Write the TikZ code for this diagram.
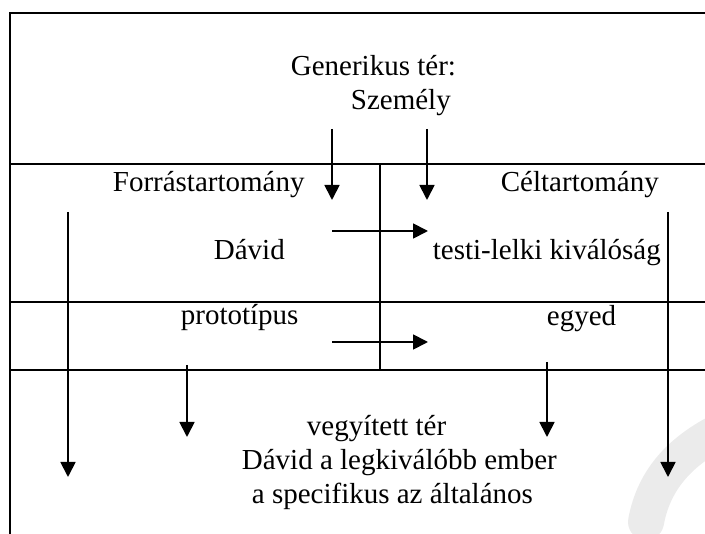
\documentclass[tikz,border=0pt]{standalone}
\usepackage{fontspec}
\setmainfont{Liberation Serif}
\usetikzlibrary{arrows.meta}

\begin{document}
\begin{tikzpicture}[x=1pt, y=-1pt, line width=1.8pt,
    >={Triangle[length=15pt,width=15pt]},
    lbl/.style={anchor=base west, inner sep=0pt, font=\fontsize{29}{34}\selectfont}]
      \useasboundingbox (0,0) rectangle (705,534);

      \draw[black!8, line width=36pt, line cap=round] (722,430) .. controls (682,450) and (654,478) .. (646,522);

      \draw (10,534) -- (10,13) -- (705,13);
      \draw (10,164) -- (705,164);
      \draw (10,302) -- (705,302);
      \draw (10,370) -- (705,370);
      \draw (380,164) -- (380,370);

      \node[lbl] (gen) at (290,76) {Generikus tér:};
      \node[lbl] (szem) at (350,110) {Személy};
      \node[lbl] (forras) at (112,192) {Forrástartomány};
      \node[lbl] (cel) at (500,192) {Céltartomány};
      \node[lbl] (david) at (213,260) {Dávid};
      \node[lbl] (testi) at (432,260) {testi-lelki kiválóság};
      \node[lbl] (proto) at (180,325) {prototípus};
      \node[lbl] (egyed) at (546,326) {egyed};
      \node[lbl] (vegy) at (306,436) {vegyített tér};
      \node[lbl] (legk) at (241,470) {Dávid a legkiválóbb ember};
      \node[lbl] (spec) at (251,504) {a specifikus az általános};

      \coordinate (gs) at (332,129);
      \coordinate (ge) at (332,200);
      \coordinate (gt) at (427,129);
      \coordinate (gc) at (427,200);
      \coordinate (m1) at (332,231);
      \coordinate (m2) at (428,231);
      \coordinate (p1) at (332,342);
      \coordinate (p2) at (428,342);
      \coordinate (fs) at (68,212);
      \coordinate (fe) at (68,477);
      \coordinate (cs) at (668,212);
      \coordinate (ce) at (668,477);
      \coordinate (ps) at (187,365);
      \coordinate (pe) at (187,437);
      \coordinate (es) at (547,362);
      \coordinate (ee) at (547,437);

      \draw[->] (gs) -- (ge);
      \draw[->] (gt) -- (gc);
      \draw[->] (m1) -- (m2);
      \draw[->] (p1) -- (p2);
      \draw[->] (fs) -- (fe);
      \draw[->] (cs) -- (ce);
      \draw[->] (ps) -- (pe);
      \draw[->] (es) -- (ee);
    \end{tikzpicture}
\end{document}
